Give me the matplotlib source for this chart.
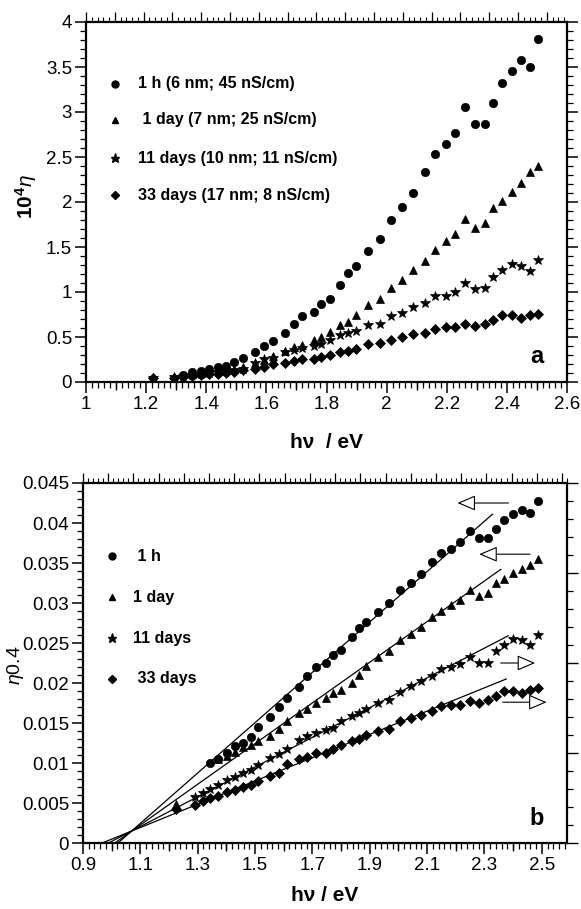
import numpy as np
import matplotlib
matplotlib.use("Agg")
import matplotlib.pyplot as plt
from matplotlib.ticker import MultipleLocator, FuncFormatter

plt.rcParams['font.family'] = ['Liberation Sans', 'DejaVu Sans']
plt.rcParams['mathtext.fontset'] = 'custom'
plt.rcParams['mathtext.rm'] = 'Liberation Sans'
plt.rcParams['mathtext.it'] = 'Liberation Sans:italic'
plt.rcParams['mathtext.bf'] = 'Liberation Sans:bold'

nan = np.nan

# ---- panel a : 10^4 eta vs h nu ----
hv_a = [1.224, 1.293, 1.322, 1.352, 1.381, 1.410, 1.438, 1.467, 1.492, 1.521,
        1.561, 1.593, 1.623, 1.661, 1.691, 1.720, 1.757, 1.783, 1.810, 1.845,
        1.871, 1.897, 1.939, 1.978, 2.016, 2.052, 2.089, 2.127, 2.161, 2.196,
        2.229, 2.262, 2.294, 2.327, 2.354, 2.384, 2.416, 2.447, 2.476, 2.504]
a_1h = [nan, nan, 0.08, 0.11, 0.12, 0.145, 0.17, 0.18, 0.22, 0.27,
        0.33, 0.40, 0.455, 0.55, 0.65, 0.73, 0.78, 0.87, 0.92, 1.08,
        1.21, 1.29, 1.46, 1.59, 1.80, 1.94, 2.10, 2.33, 2.53, 2.64,
        2.77, 3.06, 2.87, 2.87, 3.10, 3.32, 3.46, 3.58, 3.50, 3.81]
a_1d = [0.04, nan, nan, 0.09, 0.10, 0.12, 0.13, 0.14, 0.15, 0.17,
        0.21, 0.25, 0.29, 0.34, 0.39, 0.41, 0.47, 0.50, 0.56, 0.63,
        0.67, 0.74, 0.86, 0.92, 1.04, 1.13, 1.24, 1.34, 1.47, 1.57,
        1.64, 1.81, 1.71, 1.77, 1.93, 2.01, 2.11, 2.21, 2.33, 2.40]
a_11d = [0.05, 0.06, 0.07, 0.08, 0.09, 0.10, 0.11, 0.12, 0.13, 0.15,
         0.21, 0.26, 0.27, 0.33, 0.36, 0.38, 0.40, 0.42, 0.47, 0.52,
         0.54, 0.57, 0.63, 0.64, 0.73, 0.77, 0.83, 0.88, 0.96, 0.96,
         1.00, 1.10, 1.03, 1.04, 1.17, 1.24, 1.31, 1.29, 1.23, 1.36]
a_33d = [0.04, 0.05, 0.06, 0.065, 0.075, 0.085, 0.09, 0.10, 0.115, 0.13,
         0.15, 0.17, 0.195, 0.21, 0.23, 0.26, 0.26, 0.28, 0.30, 0.33,
         0.35, 0.37, 0.42, 0.43, 0.47, 0.50, 0.53, 0.55, 0.59, 0.61,
         0.61, 0.64, 0.62, 0.65, 0.69, 0.74, 0.74, 0.71, 0.74, 0.76]
labels_a = ["1 h (6 nm; 45 nS/cm)", " 1 day (7 nm; 25 nS/cm)",
            "11 days (10 nm; 11 nS/cm)", "33 days (17 nm; 8 nS/cm)"]

# ---- panel b : eta^0.4 vs h nu ----
hv_b = [1.223, 1.291, 1.320, 1.343, 1.372, 1.401, 1.430, 1.459, 1.485, 1.511,
        1.552, 1.585, 1.613, 1.653, 1.682, 1.712, 1.747, 1.773, 1.800, 1.837,
        1.863, 1.887, 1.928, 1.968, 2.004, 2.044, 2.079, 2.116, 2.150, 2.184,
        2.216, 2.250, 2.281, 2.312, 2.341, 2.369, 2.400, 2.430, 2.458, 2.486]
b_1h = [nan, nan, nan, 0.0100, 0.0105, 0.0112, 0.0121, 0.0125, 0.0132, 0.0145,
        0.0157, 0.0170, 0.0181, 0.0195, 0.0209, 0.0220, 0.0225, 0.0235, 0.0241, 0.0257,
        0.0269, 0.0276, 0.0289, 0.0300, 0.0316, 0.0325, 0.0336, 0.0351, 0.0362, 0.0368,
        0.0376, 0.0390, 0.0381, 0.0381, 0.0393, 0.0404, 0.0411, 0.0416, 0.0413, 0.0427]
b_1d = [0.0049, nan, nan, nan, 0.0105, 0.0109, 0.0114, 0.0120, 0.0123, 0.0127,
        0.0134, 0.0142, 0.0153, 0.0162, 0.0168, 0.0175, 0.0181, 0.0187, 0.0191, 0.0200,
        0.0210, 0.0221, 0.0232, 0.0240, 0.0254, 0.0261, 0.0270, 0.0282, 0.0290, 0.0298,
        0.0304, 0.0316, 0.0309, 0.0313, 0.0325, 0.0330, 0.0337, 0.0343, 0.0348, 0.0355]
b_11d = [nan, 0.0058, 0.0063, 0.0068, 0.0073, 0.0079, 0.0083, 0.0087, 0.0091, 0.0097,
         0.0106, 0.0111, 0.0118, 0.0129, 0.0134, 0.0138, 0.0141, 0.0144, 0.0153, 0.0159,
         0.0163, 0.0168, 0.0175, 0.0179, 0.0189, 0.0196, 0.0202, 0.0209, 0.0217, 0.0220,
         0.0224, 0.0233, 0.0225, 0.0225, 0.0240, 0.0248, 0.0255, 0.0254, 0.0248, 0.0260]
b_33d = [0.0042, 0.0048, 0.0053, 0.0056, 0.0059, 0.0064, 0.0066, 0.0070, 0.0073, 0.0078,
         0.0084, 0.0088, 0.0099, 0.0105, 0.0108, 0.0113, 0.0112, 0.0118, 0.0123, 0.0127,
         0.0130, 0.0135, 0.0140, 0.0143, 0.0152, 0.0156, 0.0160, 0.0165, 0.0171, 0.0173,
         0.0173, 0.0177, 0.0175, 0.0179, 0.0184, 0.0190, 0.0190, 0.0188, 0.0191, 0.0194]
labels_b = [" 1 h", "1 day", "11 days", " 33 days"]

# linear fits (x-intercept, end of line, slope) and axis arrows
fit_x0 = [1.022, 1.011, 0.989, 0.967]
fit_x1 = [2.328, 2.357, 2.383, 2.376]
fit_slope = [0.03147, 0.02541, 0.01858, 0.01455]
arrow_y = [0.0425, 0.0361, 0.0225, 0.0176]
arrow_tail = [2.384, 2.459, 2.357, 2.364]
arrow_tip = [2.206, 2.282, 2.477, 2.517]

markers = ['o', '^', '*', 'D']
msizes = [6, 6, 7.5, 4.7]
fmt = FuncFormatter(lambda v, p: '%g' % round(v, 4))


def frame(ax, ymaj, ymin):
    for s in ax.spines.values():
        s.set_linewidth(1.6)
    ax.xaxis.set_major_formatter(fmt)
    ax.yaxis.set_major_formatter(fmt)
    ax.yaxis.set_major_locator(MultipleLocator(ymaj))
    ax.yaxis.set_minor_locator(MultipleLocator(ymin))
    ax.tick_params(which='major', direction='out', length=8, width=1.1,
                   labelsize=13.5, pad=2)
    ax.tick_params(which='minor', direction='out', length=4, width=0.9)
    ax.tick_params(axis='y', which='both', right=True)
    ax.tick_params(axis='x', which='both', top=False)


def top_ticks(ax, n):
    t = ax.twiny()
    t.set_xlim(0, n)
    t.xaxis.set_major_locator(MultipleLocator(1))
    t.xaxis.set_minor_locator(MultipleLocator(0.2))
    t.tick_params(which='major', direction='out', length=7, width=0.9, labeltop=False)
    t.tick_params(which='minor', direction='out', length=3.5, width=0.8)
    for s in t.spines.values():
        s.set_visible(False)


def mid_ticks(ax, pos):
    sec = ax.secondary_xaxis('bottom')
    sec.set_xticks(pos)
    sec.tick_params(direction='out', length=6, width=1.0, labelbottom=False)
    sec.spines['bottom'].set_visible(False)


fig = plt.figure(figsize=(5.81, 9.09), dpi=100)

# ---------------- panel a ----------------
ax = fig.add_axes([86 / 581, 1 - 382 / 909, 481 / 581, 360 / 909])
for y, m, ms in zip([a_1h, a_1d, a_11d, a_33d], markers, msizes):
    ax.plot(hv_a, y, ls='none', marker=m, ms=ms, color='black', mec='black', mew=0.5)
ax.set_xlim(1, 2.6)
ax.set_ylim(0, 4)
ax.xaxis.set_major_locator(MultipleLocator(0.2))
ax.xaxis.set_minor_locator(MultipleLocator(0.02))
frame(ax, 0.5, 0.1)
mid_ticks(ax, np.arange(1.1, 2.6, 0.2))
top_ticks(ax, 16.7)

leg_y = [0.828, 0.728, 0.622, 0.519]
for lab, m, ms, yy in zip(labels_a, markers, msizes, leg_y):
    ax.plot([0.060], [yy], transform=ax.transAxes, marker=m, ms=ms - 1,
            color='black', ls='none', clip_on=False)
    ax.text(0.108, yy, lab, transform=ax.transAxes, fontsize=11.5,
            fontweight='bold', va='center', ha='left')
ax.text(0.937, 0.07, 'a', transform=ax.transAxes, fontsize=17,
        fontweight='bold', ha='center', va='center')
ax.set_xlabel('hν  / eV', fontsize=15, fontweight='bold')
ax.xaxis.set_label_coords(0.5, -0.169)
ax.xaxis.label.set_va('center')
ax.set_ylabel(r'$\mathbf{10^4}\eta$', fontsize=15)
ax.yaxis.set_label_coords(-0.125, 0.514)
ax.yaxis.label.set_va('center')

# ---------------- panel b ----------------
bx = fig.add_axes([83 / 581, 1 - 843 / 909, 484 / 581, 360 / 909])
for y, m, ms in zip([b_1h, b_1d, b_11d, b_33d], markers, msizes):
    bx.plot(hv_b, y, ls='none', marker=m, ms=ms, color='black', mec='black', mew=0.5)
for x0, x1, k in zip(fit_x0, fit_x1, fit_slope):
    xs = np.array([x0, x1])
    bx.plot(xs, k * (xs - x0), color='black', lw=0.9)
for yy, xt, xh in zip(arrow_y, arrow_tail, arrow_tip):
    bx.annotate('', xy=(xh, yy), xytext=(xt, yy),
                arrowprops=dict(arrowstyle='-|>,head_length=0.7,head_width=0.3',
                                fc='white', ec='black', lw=0.8,
                                mutation_scale=16, shrinkA=0, shrinkB=0))
bx.set_xlim(0.9, 2.588)
bx.set_ylim(0, 0.045)
bx.set_xticks(np.arange(0.9, 2.51, 0.2))
bx.xaxis.set_minor_locator(MultipleLocator(0.02))
frame(bx, 0.005, 0.001)
bx.tick_params(axis='y', which='both', right=False)
mid_ticks(bx, np.arange(1.0, 2.55, 0.2))
top_ticks(bx, 19.2)
r = bx.twinx()
r.set_ylim(0, 4)
r.yaxis.set_major_locator(MultipleLocator(1))
r.yaxis.set_minor_locator(MultipleLocator(0.2))
r.tick_params(which='major', direction='out', length=8, width=1.0, labelright=False)
r.tick_params(which='minor', direction='out', length=4, width=0.9)
for s in r.spines.values():
    s.set_visible(False)

leg_yb = [0.797, 0.683, 0.569, 0.456]
leg_xb = [0.104, 0.103, 0.103, 0.104]
for lab, m, ms, yy, xx in zip(labels_b, markers, msizes, leg_yb, leg_xb):
    bx.plot([0.060], [yy], transform=bx.transAxes, marker=m, ms=ms - 1,
            color='black', ls='none', clip_on=False)
    bx.text(xx, yy, lab, transform=bx.transAxes, fontsize=11.5,
            fontweight='bold', va='center', ha='left')
bx.text(0.937, 0.069, 'b', transform=bx.transAxes, fontsize=17,
        fontweight='bold', ha='center', va='center')
bx.set_xlabel('hν / eV', fontsize=15, fontweight='bold')
bx.xaxis.set_label_coords(0.5, -0.146)
bx.xaxis.label.set_va('center')
bx.set_ylabel(r'$\eta$0.4', fontsize=14)
bx.yaxis.set_label_coords(-0.14, 0.494)
bx.yaxis.label.set_va('center')

fig.savefig('out.png', dpi=100)
